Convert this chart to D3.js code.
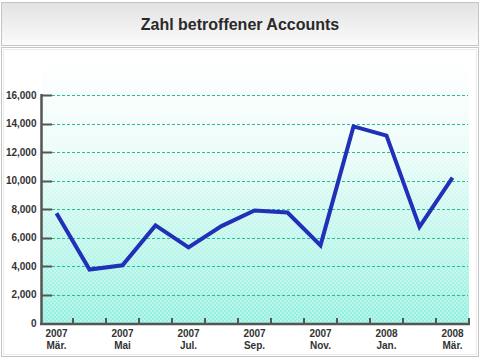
<!DOCTYPE html>
<html><head><meta charset="utf-8">
<script src="https://cdn.jsdelivr.net/npm/d3@7"></script>
<style>html,body{margin:0;padding:0;background:#fff;}svg{display:block;}</style>
</head><body><div id="chart"></div>
<script>
const years = ["2007","2007","2007","2007","2007","2007","2007","2007","2007","2007","2008","2008","2008"];
const months = ["Mär.","Apr.","Mai","Jun.","Jul.","Aug.","Sep.","Okt.","Nov.","Dez.","Jan.","Feb.","Mär."];
const values = [7700,3750,4050,6850,5300,6800,7900,7750,5450,13800,13150,6750,10200];
const labelIdx = [0,2,4,6,8,10,12];
const yTicks = [0,2000,4000,6000,8000,10000,12000,14000,16000];
const title = "Zahl betroffener Accounts";

const W=480,H=360;
const svg=d3.select("#chart").append("svg").attr("width",W).attr("height",H);
const defs=svg.append("defs");
const tg=defs.append("linearGradient").attr("id","tg").attr("x1",0).attr("y1",0).attr("x2",0).attr("y2",1);
tg.append("stop").attr("offset","0").attr("stop-color","#e2e2e2");
tg.append("stop").attr("offset","1").attr("stop-color","#fbfbfb");
const pg=defs.append("linearGradient").attr("id","pg").attr("x1",0).attr("y1",0).attr("x2",0).attr("y2",1);
pg.append("stop").attr("offset","0").attr("stop-color","#ffffff");
pg.append("stop").attr("offset","0.35").attr("stop-color","#eafcf8");
pg.append("stop").attr("offset","1").attr("stop-color","#92f0de");
const pat=defs.append("pattern").attr("id","chk").attr("width",4).attr("height",4).attr("patternUnits","userSpaceOnUse");
pat.append("rect").attr("width",2).attr("height",2).attr("fill","#ffffff").attr("opacity",0.3);
pat.append("rect").attr("x",2).attr("y",2).attr("width",2).attr("height",2).attr("fill","#ffffff").attr("opacity",0.3);

// title panel
svg.append("rect").attr("x",1.5).attr("y",2.5).attr("width",477).attr("height",43).attr("fill","url(#tg)").attr("stroke","#c4c4c4").attr("stroke-width",1);
svg.append("text").attr("x",240).attr("y",30).attr("text-anchor","middle")
  .attr("font-family","Liberation Sans, Arial, sans-serif").attr("font-size",16).attr("font-weight","bold")
  .attr("fill","#2a2a2a").text(title);
// chart panel
svg.append("rect").attr("x",1.5).attr("y",47.5).attr("width",477).attr("height",309).attr("fill","#fff").attr("stroke","#c4c4c4").attr("stroke-width",1);
svg.append("rect").attr("x",3.5).attr("y",49.5).attr("width",473).attr("height",305).attr("fill","none").attr("stroke","#ececec").attr("stroke-width",1);

const x=d3.scaleBand().domain(d3.range(values.length)).range([40,469]);
const y=d3.scaleLinear().domain([0,16000]).range([323,95]);

const plotTop=60;
svg.append("rect").attr("x",42).attr("y",plotTop).attr("width",469-42).attr("height",323-plotTop).attr("fill","url(#pg)");
svg.append("rect").attr("x",42).attr("y",plotTop).attr("width",469-42).attr("height",323-plotTop).attr("fill","url(#chk)");

// grid lines
svg.append("g").selectAll("line").data(yTicks.filter(d=>d>0)).join("line")
  .attr("x1",52).attr("x2",468).attr("y1",d=>Math.round(y(d))+0.5).attr("y2",d=>Math.round(y(d))+0.5)
  .attr("stroke","#2fba96").attr("stroke-width",1).attr("stroke-dasharray","3,2");

// y axis
const ya=svg.append("g").attr("transform","translate(41.5,0)")
  .call(d3.axisLeft(y).tickValues(yTicks).tickFormat(d3.format(",")).tickSize(0).tickPadding(5));
ya.select(".domain").remove();
ya.selectAll("text").attr("font-family","Liberation Sans, Arial, sans-serif").attr("font-size",10).attr("font-weight","bold").attr("fill","#333");
svg.append("g").selectAll("line").data(yTicks.filter(d=>d>0)).join("line")
  .attr("x1",42).attr("x2",52).attr("y1",d=>Math.round(y(d))+0.5).attr("y2",d=>Math.round(y(d))+0.5)
  .attr("stroke","#555").attr("stroke-width",2);
svg.append("line").attr("x1",41.5).attr("x2",41.5).attr("y1",94).attr("y2",325).attr("stroke","#555").attr("stroke-width",2.5);

// x axis
svg.append("line").attr("x1",40).attr("x2",470).attr("y1",324).attr("y2",324).attr("stroke","#555").attr("stroke-width",2.5);
svg.append("g").selectAll("line").data(d3.range(values.length)).join("line")
  .attr("x1",i=>Math.round(x(i)+x.bandwidth())).attr("x2",i=>Math.round(x(i)+x.bandwidth()))
  .attr("y1",318).attr("y2",324).attr("stroke","#555").attr("stroke-width",2);
const xl=svg.append("g").selectAll("text").data(labelIdx).join("text")
  .attr("x",i=>x(i)+x.bandwidth()/2).attr("y",337).attr("text-anchor","middle")
  .attr("font-family","Liberation Sans, Arial, sans-serif").attr("font-size",10).attr("font-weight","bold").attr("fill","#333");
xl.append("tspan").attr("x",i=>x(i)+x.bandwidth()/2).attr("dy",0).text(i=>years[i]);
xl.append("tspan").attr("x",i=>x(i)+x.bandwidth()/2).attr("dy",12).text(i=>months[i]);

// line
const line=d3.line().x((d,i)=>x(i)+x.bandwidth()/2).y(d=>y(d));
svg.append("path").datum(values).attr("d",line).attr("fill","none")
  .attr("stroke","#2030b8").attr("stroke-width",4).attr("stroke-linejoin","miter");
</script></body></html>
